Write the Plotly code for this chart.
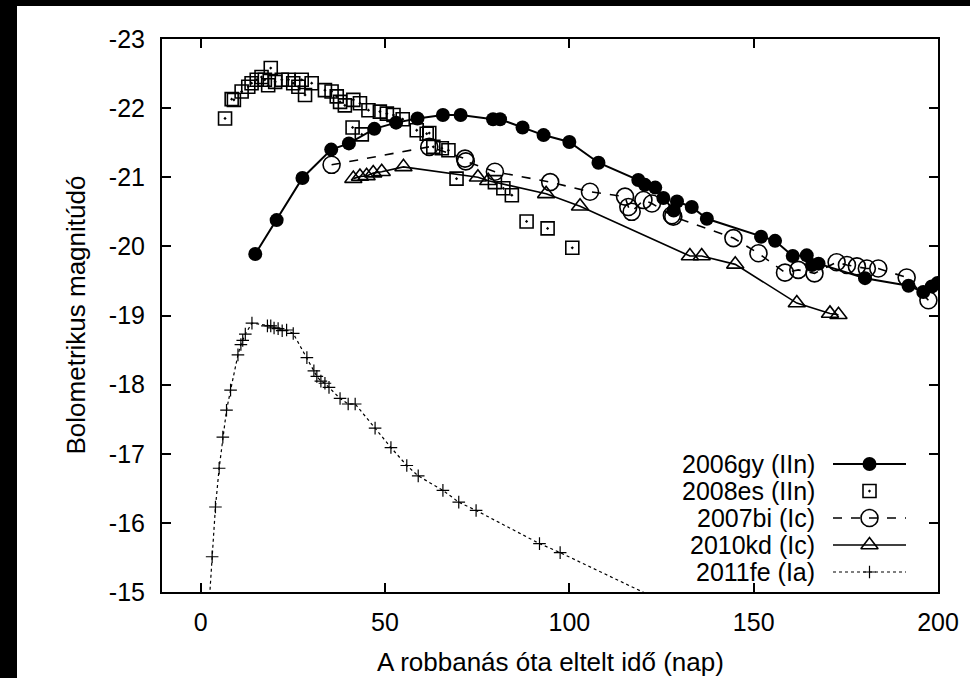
import plotly.graph_objects as go

# ---------------- data ----------------
gy_days = [14.8, 20.6, 27.6, 35.4, 40.2, 47.1, 53.0, 58.8, 65.7, 70.5, 79.3, 81.2, 87.3,
           93.0, 100.0, 107.9, 118.7, 120.5, 123.3, 125.5, 128.3, 129.2, 133.2, 137.3,
           152.0, 155.8, 160.6, 164.4, 165.8, 167.6, 180.2, 192.0, 196.0, 198.3, 199.9]
gy_mag = [-19.89, -20.38, -20.99, -21.40, -21.49, -21.70, -21.79, -21.85, -21.90, -21.90,
          -21.84, -21.84, -21.72, -21.61, -21.51, -21.21, -20.96, -20.89, -20.85, -20.70,
          -20.52, -20.65, -20.57, -20.40, -20.14, -20.08, -19.86, -19.87, -19.73, -19.75,
          -19.54, -19.43, -19.34, -19.42, -19.47]

es_days = [6.6, 8.4, 9.0, 11.1, 12.9, 13.8, 15.2, 16.5, 17.4, 18.3, 19.0, 20.2, 22.0, 23.8,
           25.1, 26.5, 27.4, 28.3, 30.1, 33.7, 35.5, 36.9, 37.8, 39.1, 41.2, 41.4, 43.2,
           43.7, 45.5, 48.6, 50.5, 52.3, 54.8, 58.6, 61.3, 62.0, 63.1, 65.4, 67.2, 69.4,
           79.8, 82.1, 84.4, 88.4, 94.1, 100.8]
es_mag = [-21.85, -22.13, -22.12, -22.24, -22.31, -22.36, -22.41, -22.45, -22.41, -22.33,
          -22.58, -22.38, -22.41, -22.41, -22.36, -22.31, -22.41, -22.19, -22.36, -22.26,
          -22.24, -22.17, -22.09, -22.04, -21.72, -22.12, -22.07, -21.62, -21.97, -21.95,
          -21.92, -21.90, -21.84, -21.68, -21.63, -21.64, -21.44, -21.42, -21.39, -20.98,
          -20.93, -20.84, -20.74, -20.36, -20.26, -19.98]

bi_days = [35.5, 62.0, 71.7, 71.9, 79.8, 94.8, 105.6, 115.1, 116.0, 116.9, 120.1, 122.4,
           127.8, 128.2, 144.5, 151.3, 158.5, 162.1, 166.5, 172.5, 175.3, 178.0, 180.7,
           183.8, 191.5, 197.4]
bi_mag = [-21.18, -21.44, -21.27, -21.23, -21.08, -20.93, -20.79, -20.72, -20.57, -20.50,
          -20.67, -20.62, -20.45, -20.43, -20.12, -19.90, -19.62, -19.66, -19.61, -19.77,
          -19.73, -19.71, -19.68, -19.68, -19.55, -19.22]

kd_days = [41.4, 43.2, 45.0, 46.8, 49.1, 55.0, 75.2, 78.0, 93.7, 102.9, 132.7, 135.9,
           145.0, 161.7, 170.7, 173.0]
kd_mag = [-20.98, -21.01, -21.02, -21.06, -21.08, -21.15, -21.00, -20.95, -20.76, -20.58,
          -19.86, -19.86, -19.74, -19.18, -19.03, -19.01]

fe_days = [2.0, 3.1, 4.0, 5.0, 6.0, 7.0, 8.1, 10.1, 10.9, 11.4, 12.1, 13.9, 18.1, 19.0,
           19.9, 21.0, 22.1, 23.3, 25.1, 28.8, 30.7, 31.5, 32.6, 33.7, 34.8, 37.8, 40.0,
           41.9, 47.3, 51.6, 55.9, 59.0, 65.7, 70.0, 74.7, 91.9, 97.5, 125.0]
fe_mag = [-14.60, -15.51, -16.23, -16.79, -17.24, -17.63, -17.92, -18.43, -18.58, -18.64,
          -18.73, -18.89, -18.85, -18.85, -18.82, -18.81, -18.78, -18.79, -18.74, -18.39,
          -18.20, -18.12, -18.05, -18.02, -17.96, -17.80, -17.72, -17.72, -17.37, -17.09,
          -16.83, -16.68, -16.47, -16.30, -16.18, -15.70, -15.57, -14.87]

legend_labels = ["2006gy (IIn)", "2008es (IIn)", "2007bi (Ic)", "2010kd (Ic)", "2011fe (Ia)"]
x_ticks = [0, 50, 100, 150, 200]
y_ticks = [-23, -22, -21, -20, -19, -18, -17, -16, -15]
y_ticktext = ["-23", "-22", "-21", "-20", "-19", "-18", "-17", "-16", "-15"]
x_title = "A robbanás óta eltelt idő (nap)"
y_title = "Bolometrikus magnitúdó"

# ---------------- styles ----------------
FONT = "Liberation Sans, Arial, Helvetica, sans-serif"
FS_TICK = 25
FS_LEG = 25
FS_LAB = 26
lines = [
    dict(color="black", width=2),
    None,
    dict(color="black", width=1.6, dash="dash"),
    dict(color="black", width=1.6),
    dict(color="black", width=1.2, dash="dot"),
]
markers = [
    dict(symbol="circle", size=14, color="black"),
    dict(symbol="square-open-dot", size=13, color="black", line=dict(width=1.6)),
    dict(symbol="circle-open", size=17, color="black", line=dict(width=1.6)),
    dict(symbol="triangle-up-open", size=15, color="black", line=dict(width=1.6)),
    dict(symbol="cross-thin", size=9, color="black", line=dict(width=1.2, color="black")),
]
series = [(gy_days, gy_mag), (es_days, es_mag), (bi_days, bi_mag), (kd_days, kd_mag),
          (fe_days, fe_mag)]

fig = go.Figure()
for (xs, ys), ln, mk, name in zip(series, lines, markers, legend_labels):
    if ln is None:
        fig.add_trace(go.Scatter(x=xs, y=ys, name=name, mode="markers", marker=mk,
                                 showlegend=False))
    else:
        fig.add_trace(go.Scatter(x=xs, y=ys, name=name, mode="lines+markers", line=ln,
                                 marker=mk, showlegend=False))

W, H = 970, 678
L, R, T, B = 162, 32, 39, 86
pw, ph = W - L - R, H - T - B

# ---------------- custom legend (text right-aligned, sample on the right) ----------------
for i, (ln, mk, name) in enumerate(zip(lines, markers, legend_labels)):
    if ln is not None:
        fig.add_trace(go.Scatter(x=[0, 1], y=[i, i], xaxis="x2", yaxis="y2", mode="lines",
                                 line=ln, showlegend=False, hoverinfo="skip"))
    fig.add_trace(go.Scatter(x=[0.5], y=[i], xaxis="x2", yaxis="y2", mode="markers",
                             marker=mk, showlegend=False, hoverinfo="skip"))
    fig.add_annotation(x=(816 - L) / pw, xref="paper", y=i, yref="y2", text=name,
                       showarrow=False, xanchor="right", yanchor="middle", borderpad=0,
                       font=dict(family=FONT, size=FS_LEG, color="black"))

axis_common = dict(showgrid=False, zeroline=False, showline=True, linecolor="black",
                   linewidth=2, mirror="ticks", ticks="inside", ticklen=9, tickwidth=1.5,
                   tickcolor="black", tickfont=dict(family=FONT, size=FS_TICK, color="black"))

fig.update_layout(
    width=W, height=H,
    margin=dict(l=L, r=R, t=T, b=B, pad=0),
    paper_bgcolor="white", plot_bgcolor="rgba(0,0,0,0)",
    xaxis=dict(range=[-10.5, 200], tickmode="array", tickvals=x_ticks,
               ticklabelstandoff=7, **axis_common),
    yaxis=dict(range=[-15, -23], tickmode="array", tickvals=y_ticks, ticktext=y_ticktext,
               ticklabelstandoff=10, **axis_common),
    xaxis2=dict(domain=[(833 - L) / pw, (906 - L) / pw], range=[0, 1], visible=False,
                anchor="y2", fixedrange=True),
    yaxis2=dict(domain=[0, 1], range=[4.74, -15.74], visible=False, anchor="x2",
                fixedrange=True),
    showlegend=False,
)

fig.add_annotation(x=(75 - L) / pw, xref="paper", y=0.5, yref="paper", text=y_title,
                   textangle=-90, showarrow=False, xanchor="center", yanchor="middle",
                   borderpad=0, font=dict(family=FONT, size=FS_LAB, color="black"))
fig.add_annotation(x=0.5, xref="paper", y=(T + ph - 662) / ph, yref="paper", text=x_title,
                   showarrow=False, xanchor="center", yanchor="middle", borderpad=0,
                   font=dict(family=FONT, size=FS_LAB, color="black"))

# black framing strips on the left and top of the page
fig.add_shape(type="rect", xref="paper", yref="paper", x0=-L / pw, x1=(17 - L) / pw,
              y0=-B / ph, y1=(H - B) / ph, fillcolor="black", line_width=0)
fig.add_shape(type="rect", xref="paper", yref="paper", x0=-L / pw, x1=(W - L) / pw,
              y0=(H - B - 6) / ph, y1=(H - B) / ph, fillcolor="black", line_width=0)

fig.write_html("out.html")
